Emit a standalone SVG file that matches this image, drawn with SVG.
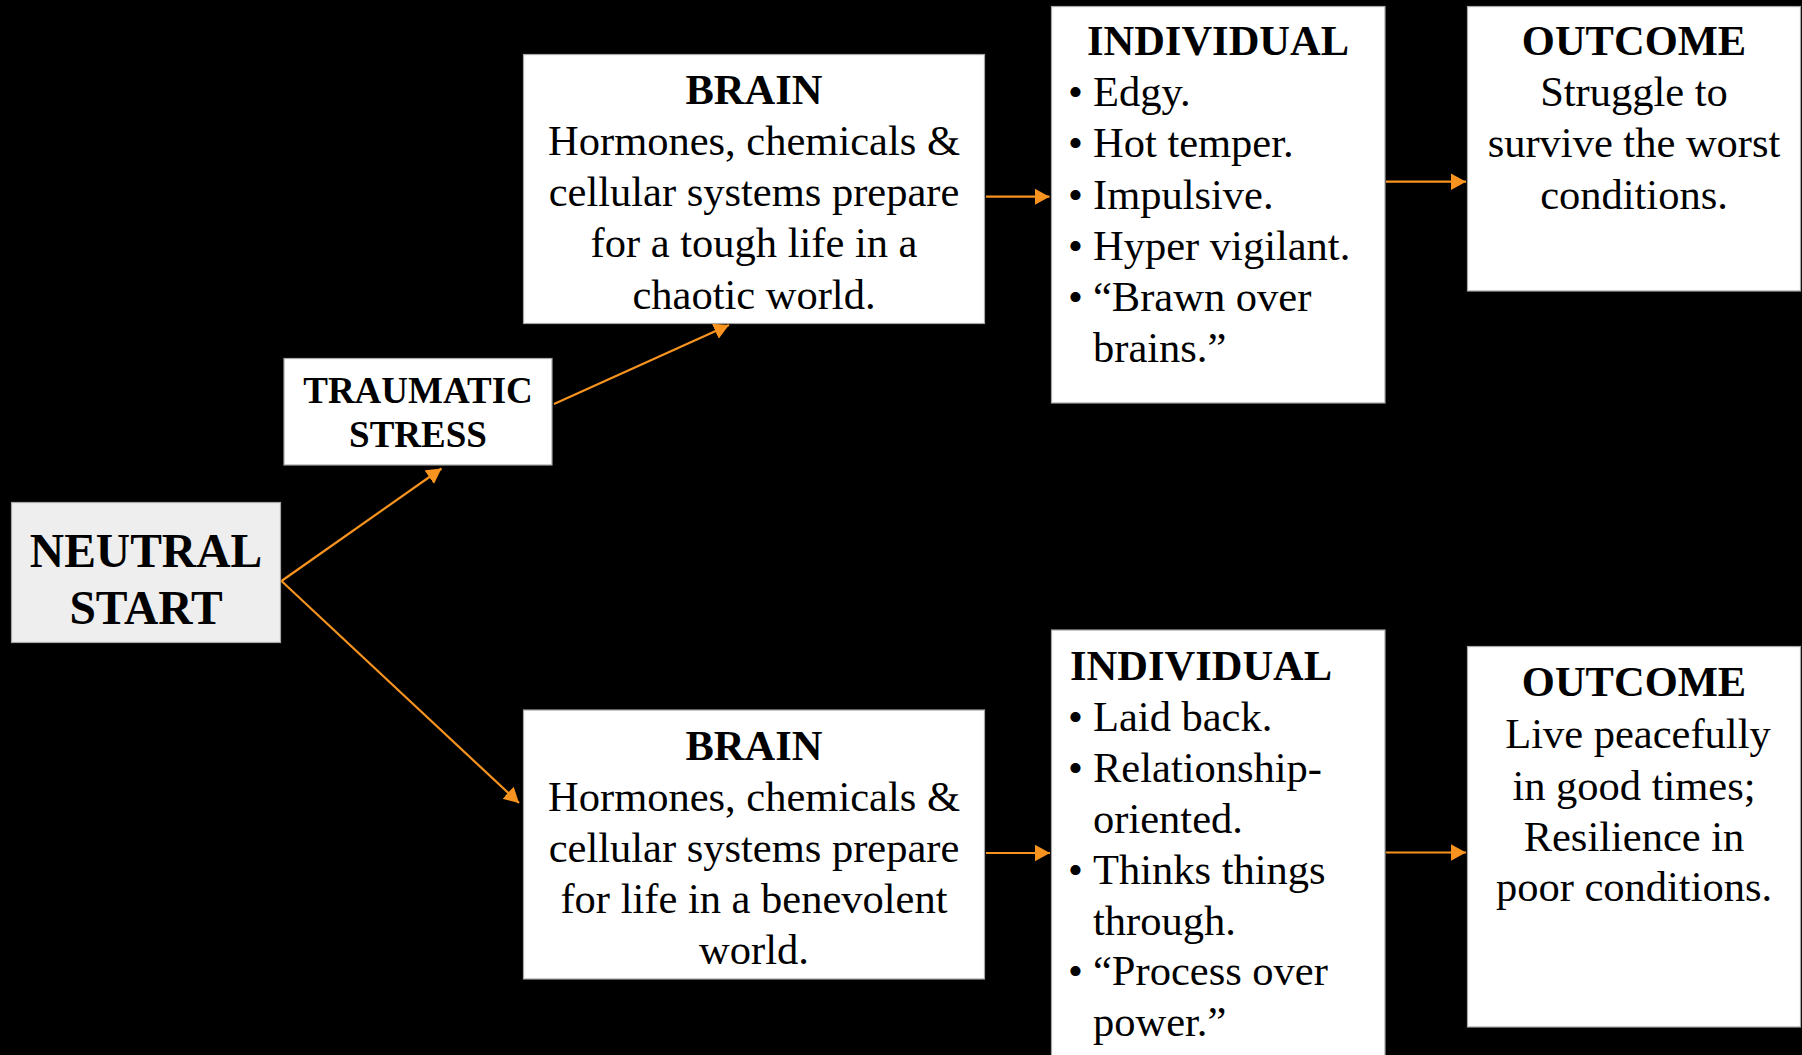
<svg xmlns="http://www.w3.org/2000/svg" width="1802" height="1055" viewBox="0 0 1802 1055">
<style>
.box{fill:#ffffff;stroke:#a6a6a6;stroke-width:1.2}
.grey{fill:#eeeeee;stroke:#a6a6a6;stroke-width:1.2}
text{font-family:"Liberation Serif","Times New Roman",serif;fill:#000000}
.t{font-size:42.5px;font-weight:bold}
.b{font-size:42.5px}
.c{text-anchor:middle}
.conn line{stroke:#f7931e;stroke-width:2.2;marker-end:url(#ah)}
</style>
<defs>
<marker id="ah" markerUnits="userSpaceOnUse" markerWidth="16" markerHeight="17" refX="15" refY="8.25" orient="auto">
<path d="M0,0 L15,8.25 L0,16.5 z" fill="#f7931e"/>
</marker>
</defs>
<rect x="0" y="0" width="1802" height="1055" fill="#000000"/>

<g id="neutral-start">
<rect class="grey" x="11.5" y="502.5" width="269" height="140"/>
<text class="c" x="146" y="566.5" style="font-size:47.5px;font-weight:bold">NEUTRAL</text>
<text class="c" x="146" y="623.5" style="font-size:47.5px;font-weight:bold">START</text>
</g>

<g id="traumatic-stress">
<rect class="box" x="284" y="358.5" width="268" height="106.5"/>
<text class="c" x="418" y="403" style="font-size:37px;font-weight:bold">TRAUMATIC</text>
<text class="c" x="418" y="447" style="font-size:37px;font-weight:bold">STRESS</text>
</g>

<g id="brain-top">
<rect class="box" x="523.5" y="54.5" width="461" height="269"/>
<text class="t c" x="754" y="103.5">BRAIN</text>
<text class="b c" x="754" y="155">Hormones, chemicals &amp;</text>
<text class="b c" x="754" y="206">cellular systems prepare</text>
<text class="b c" x="754" y="257.3">for a tough life in a</text>
<text class="b c" x="754" y="308.5">chaotic world.</text>
</g>

<g id="individual-top">
<rect class="box" x="1051.5" y="6.5" width="333.5" height="396.5"/>
<text class="t c" x="1218" y="55">INDIVIDUAL</text>
<text class="b" x="1068" y="106">•</text><text class="b" x="1093" y="106">Edgy.</text>
<text class="b" x="1068" y="157">•</text><text class="b" x="1093" y="157">Hot temper.</text>
<text class="b" x="1068" y="209">•</text><text class="b" x="1093" y="209">Impulsive.</text>
<text class="b" x="1068" y="260">•</text><text class="b" x="1093" y="260">Hyper vigilant.</text>
<text class="b" x="1068" y="311">•</text><text class="b" x="1093" y="311">“Brawn over</text>
<text class="b" x="1093" y="362">brains.”</text>
</g>

<g id="outcome-top">
<rect class="box" x="1467.5" y="6.5" width="333" height="284.5"/>
<text class="t c" x="1634" y="55">OUTCOME</text>
<text class="b c" x="1634" y="106">Struggle to</text>
<text class="b c" x="1634" y="157">survive the worst</text>
<text class="b c" x="1634" y="209">conditions.</text>
</g>

<g id="brain-bottom">
<rect class="box" x="523.5" y="710" width="461" height="269"/>
<text class="t c" x="754" y="759.5">BRAIN</text>
<text class="b c" x="754" y="810.5">Hormones, chemicals &amp;</text>
<text class="b c" x="754" y="861.5">cellular systems prepare</text>
<text class="b c" x="754" y="912.5">for life in a benevolent</text>
<text class="b c" x="754" y="963.5">world.</text>
</g>

<g id="individual-bottom">
<rect class="box" x="1051.5" y="630" width="333.5" height="440"/>
<text class="t" x="1070" y="680">INDIVIDUAL</text>
<text class="b" x="1068" y="731">•</text><text class="b" x="1093" y="731">Laid back.</text>
<text class="b" x="1068" y="782">•</text><text class="b" x="1093" y="782">Relationship-</text>
<text class="b" x="1093" y="833">oriented.</text>
<text class="b" x="1068" y="883.5">•</text><text class="b" x="1093" y="883.5">Thinks things</text>
<text class="b" x="1093" y="934.5">through.</text>
<text class="b" x="1068" y="985">•</text><text class="b" x="1093" y="985">“Process over</text>
<text class="b" x="1093" y="1036">power.”</text>
</g>

<g id="outcome-bottom">
<rect class="box" x="1467.5" y="646.5" width="333" height="380.5"/>
<text class="t c" x="1634" y="696">OUTCOME</text>
<text class="b c" x="1638" y="748">Live peacefully</text>
<text class="b c" x="1634" y="800">in good times;</text>
<text class="b c" x="1634" y="850.5">Resilience in</text>
<text class="b c" x="1634" y="901">poor conditions.</text>
</g>

<g id="connectors" class="conn">
<line x1="281.5" y1="581" x2="441.5" y2="468.5"/>
<line x1="281.5" y1="581" x2="519" y2="803"/>
<line x1="554" y1="404" x2="729" y2="325"/>
<line x1="986" y1="196.7" x2="1049.5" y2="196.7"/>
<line x1="1386" y1="181.7" x2="1466" y2="181.7"/>
<line x1="986" y1="853" x2="1050" y2="853"/>
<line x1="1386" y1="852.5" x2="1466" y2="852.5"/>
</g>
</svg>
